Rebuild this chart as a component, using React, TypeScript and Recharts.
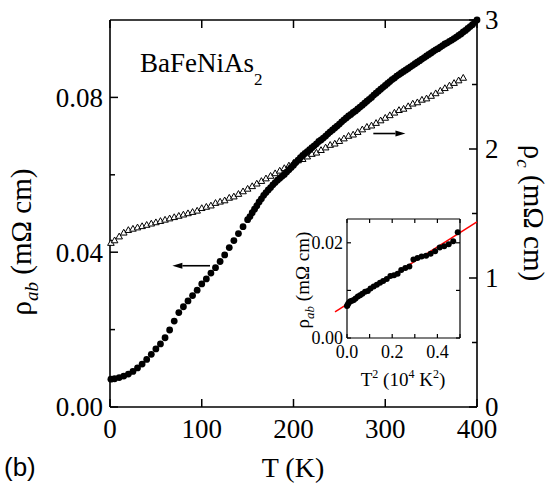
import React from 'react'
import { ComposedChart, Scatter, XAxis, YAxis, ReferenceLine } from 'recharts'

// rho_ab (left axis, filled circles)
const abTemp = [
  1, 5, 10, 15, 20, 25, 30, 35, 40, 45, 50, 55, 60, 65, 70, 75, 80, 85, 90, 95,
  100, 105, 110, 115, 120, 125, 130, 135, 140, 145,
  150, 152.5, 155, 157.5, 160, 162.5, 165, 167.5, 170, 172.5, 175, 177.5, 180, 182.5, 185, 187.5, 190, 192.5, 195, 197.5,
  200, 202.5, 205, 207.5, 210, 212.5, 215, 217.5, 220, 222.5, 225, 227.5, 230, 232.5, 235, 237.5, 240, 242.5, 245, 247.5,
  250, 252.5, 255, 257.5, 260, 262.5, 265, 267.5, 270, 272.5, 275, 277.5, 280, 282.5, 285, 287.5, 290, 292.5, 295, 297.5,
  300, 302.5, 305, 307.5, 310, 312.5, 315, 317.5, 320, 322.5, 325, 327.5, 330, 332.5, 335, 337.5, 340, 342.5, 345, 347.5,
  350, 352.5, 355, 357.5, 360, 362.5, 365, 367.5, 370, 372.5, 375, 377.5, 380, 382.5, 385, 387.5, 390, 392.5, 395, 397.5, 400,
]
const abRho = [
  0.0072, 0.0073, 0.0076, 0.008, 0.0085, 0.0092, 0.0101, 0.0111, 0.0123, 0.0136, 0.015, 0.0163, 0.0179, 0.0199, 0.0222, 0.0244, 0.0259, 0.0274, 0.0288, 0.0302,
  0.0318, 0.0331, 0.0346, 0.036, 0.0376, 0.0393, 0.0412, 0.043, 0.0448, 0.0466,
  0.0484, 0.0492, 0.0502, 0.0511, 0.052, 0.053, 0.0538, 0.0547, 0.0554, 0.0561, 0.0567, 0.0574, 0.058, 0.0586, 0.0591, 0.0596, 0.0601, 0.0607, 0.0613, 0.0619,
  0.0625, 0.0632, 0.0638, 0.0644, 0.065, 0.0655, 0.066, 0.0665, 0.067, 0.0675, 0.068, 0.0686, 0.069, 0.0695, 0.07, 0.0706, 0.0711, 0.0716, 0.0721, 0.0726,
  0.0731, 0.0737, 0.0742, 0.0747, 0.0752, 0.0756, 0.0761, 0.0765, 0.077, 0.0775, 0.078, 0.0785, 0.079, 0.0795, 0.08, 0.0806, 0.0811, 0.0816, 0.0821, 0.0826,
  0.0831, 0.0836, 0.0841, 0.0846, 0.085, 0.0855, 0.0859, 0.0863, 0.0867, 0.0871, 0.0875, 0.0879, 0.0883, 0.0887, 0.0891, 0.0895, 0.0899, 0.0903, 0.0907, 0.0911,
  0.0915, 0.0919, 0.0923, 0.0926, 0.093, 0.0934, 0.0938, 0.0941, 0.0945, 0.0948, 0.0952, 0.0956, 0.096, 0.0964, 0.0969, 0.0973, 0.0978, 0.0983, 0.0988, 0.0994, 0.1,
]

// rho_c (right axis, open triangles)
const cTemp = [
  1, 5, 10, 15, 20, 25, 30, 35, 40, 45, 50, 55, 60, 65, 70, 75, 80, 85, 90, 95,
  100, 105, 110, 115, 120, 125, 130, 135, 140, 145, 150, 155, 160, 165, 170, 175, 180, 185, 190, 195,
  200, 205, 210, 215, 220, 225, 230, 235, 240, 245, 250, 255, 260, 265, 270, 275, 280, 285, 290, 295,
  300, 305, 310, 315, 320, 325, 330, 335, 340, 345, 350, 355, 360, 365, 370, 375, 380, 385,
]
const cRho = [
  1.27, 1.29, 1.32, 1.35, 1.37, 1.38, 1.39, 1.4, 1.41, 1.42, 1.43, 1.44, 1.45, 1.46, 1.47, 1.48, 1.49, 1.5, 1.51, 1.52,
  1.54, 1.55, 1.56, 1.58, 1.59, 1.6, 1.62, 1.63, 1.65, 1.67, 1.69, 1.71, 1.73, 1.75, 1.77, 1.79, 1.81, 1.83, 1.85, 1.87,
  1.89, 1.91, 1.92, 1.94, 1.96, 1.97, 1.99, 2.01, 2.03, 2.04, 2.06, 2.08, 2.1, 2.11, 2.13, 2.15, 2.17, 2.18, 2.2, 2.22,
  2.24, 2.26, 2.28, 2.3, 2.31, 2.33, 2.35, 2.36, 2.38, 2.39, 2.41, 2.43, 2.45, 2.47, 2.49, 2.51, 2.53, 2.55,
]

// inset: rho_ab vs T^2 (10^4 K^2)
const insetT2 = [
  0, 0.002, 0.005, 0.01, 0.015, 0.022, 0.03, 0.038, 0.048, 0.058, 0.068, 0.08, 0.092, 0.104, 0.118, 0.132, 0.146, 0.16,
  0.176, 0.192, 0.208, 0.224, 0.24, 0.258, 0.276, 0.294, 0.312, 0.33, 0.35, 0.37, 0.39, 0.41, 0.43, 0.45, 0.47, 0.49,
]
const insetRho = [
  0.0067, 0.0069, 0.0072, 0.0075, 0.0077, 0.0078, 0.008, 0.0083, 0.0087, 0.009, 0.0093, 0.0097, 0.0099, 0.0104, 0.0108, 0.0112, 0.0116, 0.012,
  0.0124, 0.013, 0.0132, 0.0135, 0.0143, 0.0147, 0.015, 0.0165, 0.0168, 0.0171, 0.0173, 0.0177, 0.0182, 0.019, 0.0193, 0.0197, 0.0203, 0.0222,
]
// linear fit line ends
const fitT2 = [-0.053, 0.575]
const fitRho = [0.0055, 0.0244]

// arrows (data coords)
const leftArrowT = [109, 68]
const leftArrowRho = 0.0365
const rightArrowT = [287, 322]
const rightArrowRc = 2.12

const tempTicks = [0, 100, 200, 300, 400]
const abTicks = [0, 0.02, 0.04, 0.06, 0.08]
const abLabels = ['0.00', '', '0.04', '', '0.08']
const cTicks = [0, 0.5, 1, 1.5, 2, 2.5, 3]
const cLabels = ['0', '', '1', '', '2', '', '3']
const insetXTicks = [0, 0.1, 0.2, 0.3, 0.4, 0.5]
const insetXLabels = ['0.0', '', '0.2', '', '0.4', '']
const insetYTicks = [0, 0.01, 0.02]
const insetYLabels = ['0.00', '', '0.02']

const abData = abTemp.map((t, i) => ({ x: t, y: abRho[i] }))
const cData = cTemp.map((t, i) => ({ x: t, y: cRho[i] }))
const insetData = insetT2.map((t, i) => ({ x: t, y: insetRho[i] }))

const SERIF = '"Liberation Serif", "Times New Roman", serif'
const MAIN_TOP = 20
const INSET_TOP = 19
const INSET_RIGHT = 170

const BottomTick = (props: any) => {
  const { x, y, index } = props
  return (
    <g>
      <line x1={x} y1={y} x2={x} y2={y - 8} stroke="#000" strokeWidth={1.5} />
      <line x1={x} y1={MAIN_TOP} x2={x} y2={MAIN_TOP + 8} stroke="#000" strokeWidth={1.5} />
      <text x={x} y={y + 31} textAnchor="middle" fontSize={27} fontFamily={SERIF} fill="#000">
        {String(tempTicks[index])}
      </text>
    </g>
  )
}

const LeftTick = (props: any) => {
  const { x, y, index } = props
  const label = abLabels[index]
  return (
    <g>
      <line x1={x} y1={y} x2={x + (label ? 8 : 5)} y2={y} stroke="#000" strokeWidth={1.5} />
      {label && (
        <text x={x - 7} y={y} dy="0.35em" textAnchor="end" fontSize={27} fontFamily={SERIF} fill="#000">
          {label}
        </text>
      )}
    </g>
  )
}

const RightTick = (props: any) => {
  const { x, y, index } = props
  const label = cLabels[index]
  return (
    <g>
      <line x1={x} y1={y} x2={x - (label ? 8 : 5)} y2={y} stroke="#000" strokeWidth={1.5} />
      {label && (
        <text x={x + 8} y={y} dy="0.35em" textAnchor="start" fontSize={27} fontFamily={SERIF} fill="#000">
          {label}
        </text>
      )}
    </g>
  )
}

const InsetBottomTick = (props: any) => {
  const { x, y, index } = props
  const label = insetXLabels[index]
  return (
    <g>
      <line x1={x} y1={y} x2={x} y2={y - 4} stroke="#000" strokeWidth={1.2} />
      <line x1={x} y1={INSET_TOP} x2={x} y2={INSET_TOP + 4} stroke="#000" strokeWidth={1.2} />
      {label && (
        <text x={x} y={y + 20} textAnchor="middle" fontSize={18} fontFamily={SERIF} fill="#000">
          {label}
        </text>
      )}
    </g>
  )
}

const InsetLeftTick = (props: any) => {
  const { x, y, index } = props
  const label = insetYLabels[index]
  return (
    <g>
      <line x1={x} y1={y} x2={x + 4} y2={y} stroke="#000" strokeWidth={1.2} />
      <line x1={INSET_RIGHT} y1={y} x2={INSET_RIGHT - 4} y2={y} stroke="#000" strokeWidth={1.2} />
      {label && (
        <text x={x - 4} y={y} dy="0.35em" textAnchor="end" fontSize={18} fontFamily={SERIF} fill="#000">
          {label}
        </text>
      )}
    </g>
  )
}

const arrowShape = (p: any) => {
  const { x1, y1, x2, y2 } = p
  const dir = Math.sign(x2 - x1)
  const head = 10
  return (
    <g>
      <line x1={x1} y1={y1} x2={x2 - dir * head} y2={y2} stroke="#000" strokeWidth={1.6} />
      <polygon points={`${x2},${y2} ${x2 - dir * head},${y2 - 3} ${x2 - dir * head},${y2 + 3}`} fill="#000" />
    </g>
  )
}

const circle = (p: any) => <circle cx={p.cx} cy={p.cy} r={3.4} fill="#000" />
const smallCircle = (p: any) => <circle cx={p.cx} cy={p.cy} r={3} fill="#000" />
const triangle = (p: any) => (
  <polygon
    points={`${p.cx},${p.cy - 3.6} ${p.cx - 3.3},${p.cy + 2.2} ${p.cx + 3.3},${p.cy + 2.2}`}
    fill="#fff"
    stroke="#000"
    strokeWidth={1}
  />
)

export default function App() {
  return (
    <div style={{ position: 'absolute', left: 0, top: 0, width: 555, height: 488, background: '#fff' }}>
      <ComposedChart width={555} height={488} margin={{ top: 20, right: 38, bottom: 41, left: 50 }}>
        <XAxis
          dataKey="x"
          type="number"
          domain={[0, 400]}
          ticks={tempTicks}
          interval={0}
          height={40}
          tickSize={0}
          tickMargin={0}
          tick={<BottomTick />}
          axisLine={{ stroke: '#000', strokeWidth: 1.6 }}
        />
        <YAxis
          yAxisId="left"
          dataKey="y"
          type="number"
          domain={[0, 0.1]}
          ticks={abTicks}
          interval={0}
          width={60}
          tickSize={0}
          tickMargin={0}
          tick={<LeftTick />}
          axisLine={{ stroke: '#000', strokeWidth: 1.6 }}
        />
        <YAxis
          yAxisId="right"
          orientation="right"
          dataKey="y"
          type="number"
          domain={[0, 3]}
          ticks={cTicks}
          interval={0}
          width={40}
          tickSize={0}
          tickMargin={0}
          tick={<RightTick />}
          axisLine={{ stroke: '#000', strokeWidth: 1.6 }}
        />
        <ReferenceLine yAxisId="left" y={0.1} stroke="#000" strokeWidth={1.6} />
        <Scatter yAxisId="right" data={cData} shape={triangle} isAnimationActive={false} />
        <Scatter yAxisId="left" data={abData} shape={circle} isAnimationActive={false} />
        <ReferenceLine
          yAxisId="left"
          segment={[
            { x: leftArrowT[0], y: leftArrowRho },
            { x: leftArrowT[1], y: leftArrowRho },
          ]}
          shape={arrowShape}
        />
        <ReferenceLine
          yAxisId="right"
          segment={[
            { x: rightArrowT[0], y: rightArrowRc },
            { x: rightArrowT[1], y: rightArrowRc },
          ]}
          shape={arrowShape}
        />
      </ComposedChart>

      <div style={{ position: 'absolute', left: 290, top: 200, width: 200, height: 200 }}>
        <ComposedChart width={200} height={200} margin={{ top: 19, right: 30, bottom: 32, left: 27 }} style={{ overflow: 'visible' }}>
          <XAxis
            dataKey="x"
            type="number"
            domain={[0, 0.5]}
            ticks={insetXTicks}
            interval={0}
            height={30}
            tickSize={0}
            tickMargin={0}
            tick={<InsetBottomTick />}
            axisLine={{ stroke: '#000', strokeWidth: 1.2 }}
          />
          <YAxis
            dataKey="y"
            type="number"
            domain={[0, 0.025]}
            ticks={insetYTicks}
            interval={0}
            width={30}
            tickSize={0}
            tickMargin={0}
            tick={<InsetLeftTick />}
            axisLine={{ stroke: '#000', strokeWidth: 1.2 }}
          />
          <ReferenceLine y={0.025} stroke="#000" strokeWidth={1.2} />
          <ReferenceLine x={0.5} stroke="#000" strokeWidth={1.2} />
          <Scatter data={insetData} shape={smallCircle} isAnimationActive={false} />
          <ReferenceLine
            segment={[
              { x: fitT2[0], y: fitRho[0] },
              { x: fitT2[1], y: fitRho[1] },
            ]}
            ifOverflow="visible"
            stroke="#ff0000"
            strokeWidth={1.5}
          />
        </ComposedChart>
      </div>

      <svg
        width={555}
        height={488}
        style={{ position: 'absolute', left: 0, top: 0, pointerEvents: 'none' }}
        fontFamily={SERIF}
      >
        <text x={140} y={72} fontSize={27} fill="#000">
          BaFeNiAs<tspan fontSize={17} dy={13}>2</tspan>
        </text>
        <text transform="rotate(-90 31 242)" x={31} y={242} textAnchor="middle" fontSize={29} fill="#000">
          ρ<tspan fontSize={19} fontStyle="italic" dy={7}>ab</tspan>
          <tspan dy={-7}> (mΩ cm)</tspan>
        </text>
        <text transform="rotate(90 524 213)" x={524} y={213} textAnchor="middle" fontSize={29} fill="#000">
          ρ<tspan fontSize={19} fontStyle="italic" dy={7}>c</tspan>
          <tspan dy={-7}> (mΩ cm)</tspan>
        </text>
        <text x={293} y={477} textAnchor="middle" fontSize={28} fill="#000">
          T (K)
        </text>
        <text x={4} y={476} fontSize={26} fontFamily='"Liberation Sans", Arial, sans-serif' fill="#000">
          (b)
        </text>
        <text transform="rotate(-90 309 280)" x={309} y={280} textAnchor="middle" fontSize={19} fill="#000">
          ρ<tspan fontSize={13} fontStyle="italic" dy={5}>ab</tspan>
          <tspan dy={-5}> (mΩ cm)</tspan>
        </text>
        <text x={403} y={386} textAnchor="middle" fontSize={19} fill="#000">
          T<tspan fontSize={12} dy={-8}>2</tspan>
          <tspan dy={8}> (10</tspan>
          <tspan fontSize={12} dy={-8}>4</tspan>
          <tspan dy={8}> K</tspan>
          <tspan fontSize={12} dy={-8}>2</tspan>
          <tspan dy={8}>)</tspan>
        </text>
      </svg>
    </div>
  )
}
